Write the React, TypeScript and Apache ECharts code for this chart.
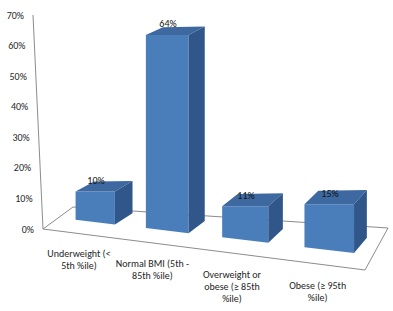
import React, { useEffect, useRef } from "react";
import * as echarts from "echarts";

const categories = [
  "Underweight (<\n5th %ile)",
  "Normal BMI (5th -\n85th %ile)",
  "Overweight or\nobese (≥ 85th\n%ile)",
  "Obese (≥ 95th\n%ile)",
];
const values = [10, 64, 11, 15];
const valueLabels = ["10%", "64%", "11%", "15%"];
const yTicks = [0, 10, 20, 30, 40, 50, 60, 70];
const yTickLabels = ["0%", "10%", "20%", "30%", "40%", "50%", "60%", "70%"];

const FONT = "Carlito, Lato, 'Noto Sans', sans-serif";
const TEXT = "#262626";
const LINE = "#8c8c8c";

function geom(cs: any) {
  const n = categories.length;
  const band = cs.width / n;
  const cx = cs.x + cs.width / 2;
  const warp = (x: number) => x + 3 * (((x - cx) / band) ** 2 - 1.25);
  const ref0 = warp(cs.x + band / 2);
  const shift = (x: number) => -7 + 0.12 * (x - ref0);
  const depth = (x: number, y: number) => [
    18 - 0.02 * (x - ref0),
    -(7 + 0.02 * (y - cs.y - 21) + 0.015 * (x - ref0)),
  ];
  return { warp, shift, depth };
}

export default function App() {
  const ref = useRef<HTMLDivElement>(null);
  useEffect(() => {
    const chart = echarts.init(ref.current!, null, { renderer: "svg" });
    chart.setOption({
      animation: false,
      grid: { left: 53, right: 28, top: 15, bottom: 82 },
      xAxis: { type: "category", data: categories, show: false },
      yAxis: { type: "value", min: 0, max: 70, interval: 10, show: false },
      series: [
        {
          type: "custom",
          z: 1,
          silent: true,
          data: yTicks.map((v, i) => [0, v, i]),
          renderItem: (params: any, api: any) => {
            const cs = params.coordSys;
            const v = api.value(1);
            const y = api.coord([0, v])[1];
            const bottom = cs.y + cs.height;
            const axX = (yy: number) => cs.x - 10 - (10 * (bottom - yy)) / cs.height;
            const children: any[] = [
              {
                type: "text",
                style: {
                  text: yTickLabels[params.dataIndex],
                  x: axX(y) - 9,
                  y: y,
                  align: "right",
                  verticalAlign: "middle",
                  font: `10px ${FONT}`,
                  fill: TEXT,
                },
              },
            ];
            if (params.dataIndex === 0) {
              const fl = [cs.x - 10, bottom];
              const fr = [cs.x + cs.width, bottom + 41];
              const br = [cs.x + cs.width + 23, bottom - 1];
              const bl = [cs.x + 20, bottom - 22];
              children.unshift(
                {
                  type: "polygon",
                  shape: { points: [fl, fr, br, bl] },
                  style: { fill: "none", stroke: LINE, lineWidth: 1 },
                },
                {
                  type: "line",
                  shape: { x1: axX(bottom), y1: bottom, x2: axX(cs.y), y2: cs.y },
                  style: { stroke: LINE, lineWidth: 1 },
                }
              );
            }
            return { type: "group", children };
          },
        },
        {
          type: "custom",
          z: 2,
          data: values.map((v, i) => [i, v]),
          renderItem: (params: any, api: any) => {
            const cs = params.coordSys;
            const { warp, shift, depth } = geom(cs);
            const i = api.value(0);
            const v = api.value(1);
            const c = api.coord([i, 0]);
            const t = api.coord([i, v]);
            const half = api.size([1, 0])[0] * 0.285;
            const xl = warp(c[0] - half);
            const xr = warp(c[0] + half);
            const xc = warp(c[0]);
            const topY = t[1] + shift(xc);
            const bl = [xl, c[1] + shift(xl)];
            const br = [xr, c[1] + shift(xr)];
            const tl = [xl, topY];
            const tr = [xr, topY];
            const d = (p: number[]) => {
              const [dx, dy] = depth(p[0], p[1]);
              return [p[0] + dx, p[1] + dy];
            };
            const tlb = d(tl);
            const trb = d(tr);
            const brb = d(br);
            const bc = [xc, c[1] + shift(xc)];
            const dv = depth(bc[0], bc[1]);
            const lx = bc[0] - dv[0] + 2;
            const ly = bc[1] - dv[1] + 15;
            return {
              type: "group",
              children: [
                {
                  type: "polygon",
                  shape: { points: [tl, tr, br, bl] },
                  style: { fill: "#4a7ebb" },
                },
                {
                  type: "polygon",
                  shape: { points: [tl, tr, trb, tlb] },
                  style: { fill: "#3d69a0" },
                },
                {
                  type: "polygon",
                  shape: { points: [tr, trb, brb, br] },
                  style: { fill: "#30568a" },
                },
                {
                  type: "text",
                  style: {
                    text: valueLabels[params.dataIndex],
                    x: xc + 1,
                    y: topY - 11,
                    align: "center",
                    verticalAlign: "middle",
                    font: `10px ${FONT}`,
                    fill: "#111",
                  },
                },
                {
                  type: "text",
                  style: {
                    text: categories[params.dataIndex],
                    x: lx,
                    y: ly,
                    align: "center",
                    verticalAlign: "top",
                    font: `10px ${FONT}`,
                    lineHeight: 12,
                    fill: TEXT,
                  },
                },
              ],
            };
          },
        },
      ],
    });
    return () => chart.dispose();
  }, []);
  return <div ref={ref} style={{ width: 393, height: 311, position: "absolute", left: 0, top: 0 }} />;
}
